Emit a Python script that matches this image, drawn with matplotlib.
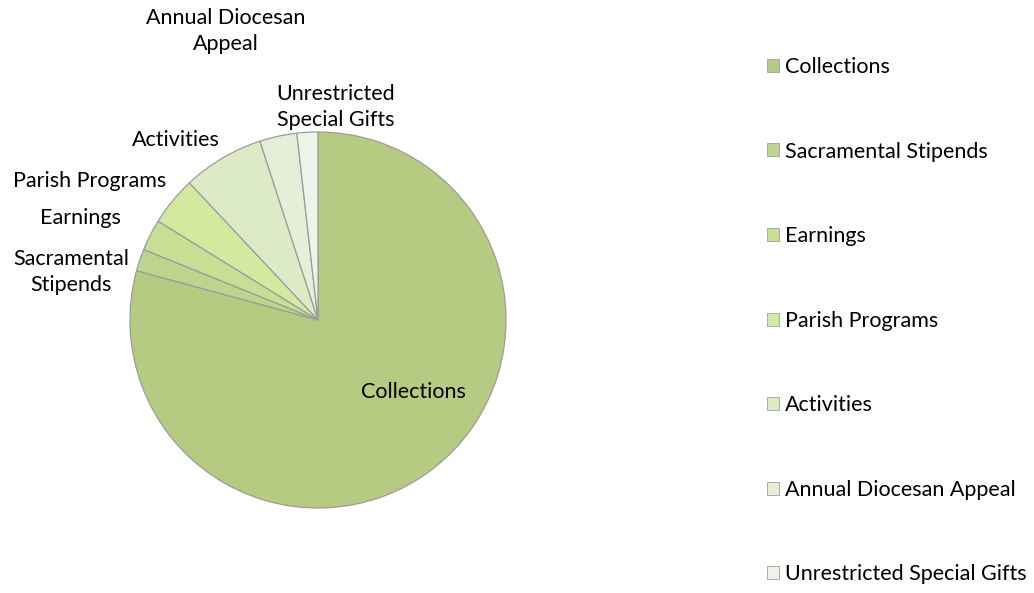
import matplotlib.pyplot as plt
from matplotlib.patches import Patch

plt.rcParams["font.family"] = ["Lato", "DejaVu Sans"]

CATEGORIES = ["Collections", "Sacramental Stipends", "Earnings", "Parish Programs",
              "Activities", "Annual Diocesan Appeal", "Unrestricted Special Gifts"]
SHARES = [79.3, 1.9, 2.7, 4.2, 7.0, 3.2, 1.8]
SLICE_LABELS = ["Collections", "Sacramental\nStipends", "Earnings", "Parish Programs",
                "Activities", "Annual Diocesan\nAppeal", "Unrestricted\nSpecial Gifts"]
COLORS = ["#b5cb82", "#bdd48b", "#c6df92", "#d2eaa0", "#dcebc6", "#e5efd8", "#eef3e8"]

# label anchor positions in pie units (radius = 1)
LABEL_POS = [(0.505, -0.383), (-1.314, 0.255), (-1.266, 0.543), (-1.213, 0.739),
             (-0.755, 0.957), (-0.489, 1.537), (0.096, 1.133)]

W, H = 1034, 593
fig = plt.figure(figsize=(W / 100, H / 100), dpi=100)
cx, cy, r = 318, 320, 188
ax = fig.add_axes([(cx - r) / W, (H - cy - r) / H, 2 * r / W, 2 * r / H])

ax.pie(SHARES, colors=COLORS, startangle=90, counterclock=False, radius=1,
       wedgeprops=dict(edgecolor="#9c9c9c", linewidth=0.9))
ax.set_xlim(-1, 1)
ax.set_ylim(-1, 1)
ax.set_aspect("equal")
ax.axis("off")

FS = 15.5
for text, (x, y) in zip(SLICE_LABELS, LABEL_POS):
    ax.text(x, y, text, ha="center", va="center", fontsize=FS,
            color="black", linespacing=1.35)

handles = [Patch(facecolor=c, edgecolor="#a0a0a0", linewidth=0.6) for c in COLORS]
fig.legend(handles, CATEGORIES, loc="upper left", bbox_to_anchor=(767 / W, 1 - 57 / H),
           frameon=False, fontsize=FS, handlelength=0.55, handleheight=0.55,
           handletextpad=0.3, labelspacing=3.0, borderaxespad=0, borderpad=0)

fig.savefig("out.png", dpi=100)
